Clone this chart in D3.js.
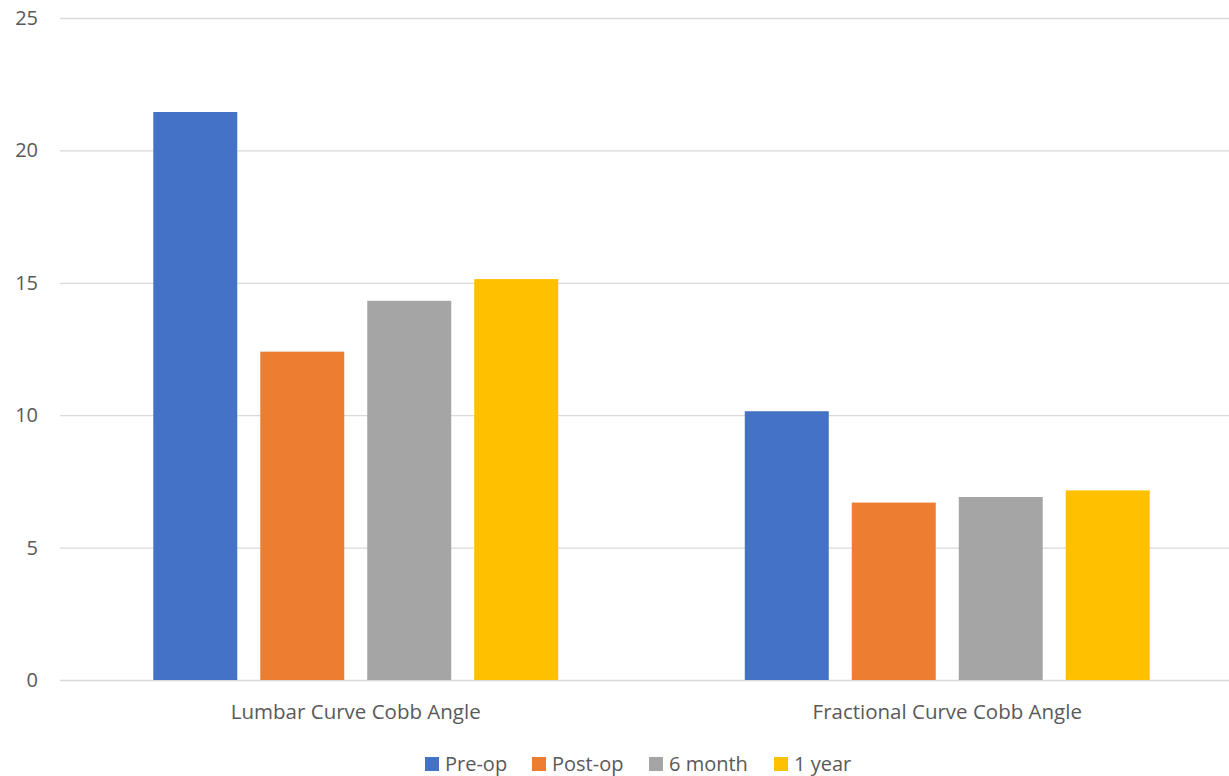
<!DOCTYPE html>
<html>
<head>
<meta charset="utf-8">
<script src="https://cdn.jsdelivr.net/npm/d3@7"></script>
<style>
  html, body { margin: 0; padding: 0; background: #fff; }
  svg { display: block; }
  text { font-family: "Open Sans", "Noto Sans", sans-serif; fill: #595959; }
</style>
</head>
<body>
<svg id="chart" width="1229" height="776"></svg>
<script>
const categories = ["Lumbar Curve Cobb Angle", "Fractional Curve Cobb Angle"];
const seriesNames = ["Pre-op", "Post-op", "6 month", "1 year"];
const preOp = [21.45, 10.15];
const postOp = [12.4, 6.7];
const sixMonth = [14.32, 6.91];
const oneYear = [15.14, 7.16];
const yTicks = [0, 5, 10, 15, 20, 25];
const colors = ["#4472C4", "#ED7D31", "#A5A5A5", "#FFC000"];

const seriesValues = [preOp, postOp, sixMonth, oneYear];
const data = categories.map((c, i) => ({
  category: c,
  values: seriesNames.map((s, j) => ({ series: s, value: seriesValues[j][i] }))
}));

const svg = d3.select("#chart");
const plotLeft = 60, plotRight = 1243, plotTop = 18, plotBottom = 680;

const y = d3.scaleLinear().domain([0, 25]).range([plotBottom, plotTop]);
const x0 = d3.scaleBand().domain(categories).range([plotLeft, plotRight]);
const x1 = d3.scaleBand().domain(seriesNames).range([0, x0.bandwidth()])
  .paddingInner(0.215).paddingOuter(0.872);
const color = d3.scaleOrdinal().domain(seriesNames).range(colors);

// gridlines
const yAxis = d3.axisLeft(y).tickValues(yTicks).tickSize(-(plotRight - plotLeft)).tickPadding(22);
const gy = svg.append("g").attr("transform", `translate(${plotLeft},0)`).call(yAxis);
gy.select(".domain").remove();
gy.selectAll(".tick line").attr("stroke", "#d9d9d9").attr("stroke-width", 1.3);
gy.selectAll(".tick text").attr("font-size", 20).attr("fill", "#595959")
  .style("font-family", '"Open Sans", sans-serif');

// bars
const groups = svg.append("g").selectAll("g").data(data).join("g")
  .attr("transform", d => `translate(${x0(d.category)},0)`);
groups.selectAll("rect").data(d => d.values).join("rect")
  .attr("x", d => x1(d.series))
  .attr("width", x1.bandwidth())
  .attr("y", d => y(d.value))
  .attr("height", d => y(0) - y(d.value))
  .attr("fill", d => color(d.series));

// x axis labels
const xAxis = d3.axisBottom(x0).tickSize(0).tickPadding(24);
const gx = svg.append("g").attr("transform", `translate(0,${plotBottom})`).call(xAxis);
gx.select(".domain").remove();
gx.selectAll(".tick text").attr("font-size", 20.5).attr("fill", "#595959")
  .style("font-family", '"Open Sans", sans-serif');

// legend
const legendX = [425, 532, 649, 774];
const legend = svg.append("g").selectAll("g").data(seriesNames).join("g")
  .attr("transform", (d, i) => `translate(${legendX[i]},757)`);
legend.append("rect").attr("width", 14).attr("height", 14).attr("fill", d => color(d));
legend.append("text").attr("x", 20).attr("y", 7).attr("dy", "0.36em")
  .attr("font-size", 20).text(d => d);
</script>
</body>
</html>
